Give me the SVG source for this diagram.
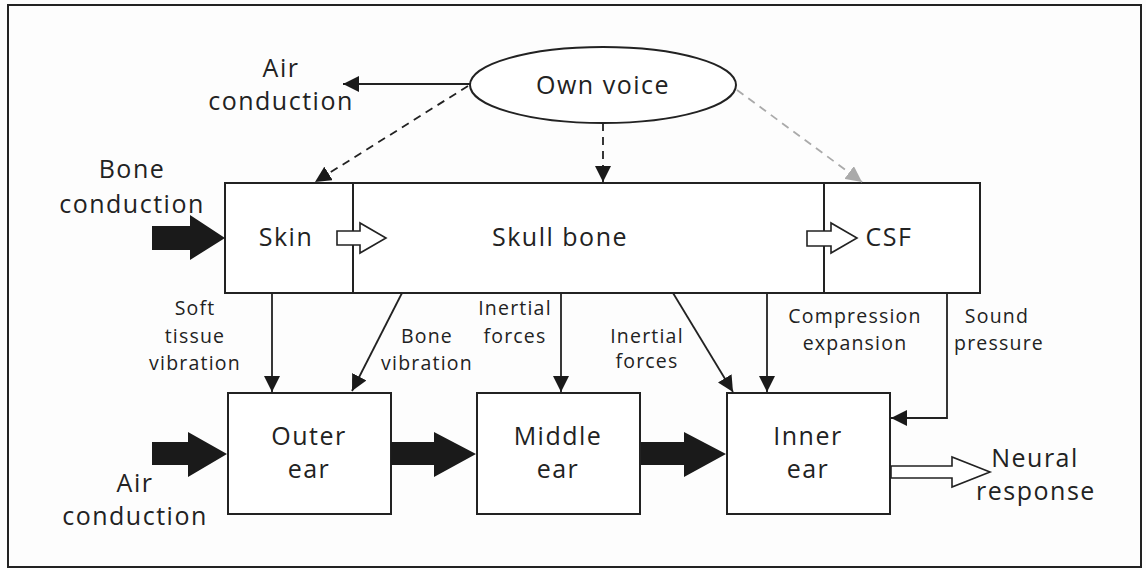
<svg xmlns="http://www.w3.org/2000/svg" width="1146" height="570" viewBox="0 0 1146 570">
<style>
.box{fill:#fff;stroke:#222;stroke-width:2}
.lg{font-family:"Open Sans","Noto Sans",sans-serif;font-size:25px;letter-spacing:1.5px;fill:#222;text-anchor:middle}
.sm{font-family:"Open Sans","Noto Sans",sans-serif;font-size:19.5px;letter-spacing:1.2px;fill:#222;text-anchor:middle}
.ln{fill:none;stroke:#222;stroke-width:1.8}
.dash{fill:none;stroke:#222;stroke-width:1.8;stroke-dasharray:8 6}
.gdash{fill:none;stroke:#aaa;stroke-width:1.8;stroke-dasharray:8 6}
.big{fill:#1a1a1a;stroke:none}
.hol{fill:#fff;stroke:#222;stroke-width:1.6}
</style>
<defs>
<marker id="ah" viewBox="0 0 16 16" refX="16" refY="8" markerWidth="16" markerHeight="16" orient="auto" markerUnits="userSpaceOnUse"><path d="M0,0 L16,8 L0,16 z" fill="#1a1a1a"/></marker>
<marker id="ahg" viewBox="0 0 16 16" refX="16" refY="8" markerWidth="16" markerHeight="16" orient="auto" markerUnits="userSpaceOnUse"><path d="M0,0 L16,8 L0,16 z" fill="#aaa"/></marker>
</defs>
<rect x="0" y="0" width="1146" height="570" fill="#fdfdfd"/>
<rect x="8" y="5" width="1133" height="562" fill="none" stroke="#222" stroke-width="2"/>

<g id="own-voice">
<ellipse cx="603" cy="85" rx="133" ry="38" class="box"/>
<text x="603" y="94" class="lg">Own voice</text>
</g>

<g id="skull">
<rect x="225" y="183" width="755" height="110" class="box"/>
<line x1="353" y1="183" x2="353" y2="293" stroke="#222" stroke-width="2"/>
<line x1="824" y1="183" x2="824" y2="293" stroke="#222" stroke-width="2"/>
</g>
<g id="skin"><text x="286" y="246" class="lg">Skin</text></g>
<g id="skull-bone"><text x="560" y="246" class="lg">Skull bone</text></g>
<g id="csf"><text x="889" y="246" class="lg">CSF</text></g>

<g id="outer-ear">
<rect x="228" y="393" width="163" height="121" class="box"/>
<text x="309" y="445" class="lg">Outer</text>
<text x="309" y="478" class="lg">ear</text>
</g>
<g id="middle-ear">
<rect x="477" y="393" width="163" height="121" class="box"/>
<text x="558" y="445" class="lg">Middle</text>
<text x="558" y="478" class="lg">ear</text>
</g>
<g id="inner-ear">
<rect x="727" y="393" width="163" height="121" class="box"/>
<text x="808" y="445" class="lg">Inner</text>
<text x="808" y="478" class="lg">ear</text>
</g>

<g id="labels">
<text x="281" y="77" class="lg">Air</text>
<text x="281" y="110" class="lg">conduction</text>
<text x="132" y="178" class="lg">Bone</text>
<text x="132" y="213" class="lg">conduction</text>
<text x="135" y="492" class="lg">Air</text>
<text x="135" y="525" class="lg">conduction</text>
<text x="1035" y="467" class="lg">Neural</text>
<text x="1036" y="500" class="lg">response</text>
<text x="195" y="315" class="sm">Soft</text>
<text x="195" y="343" class="sm">tissue</text>
<text x="195" y="370" class="sm">vibration</text>
<text x="427" y="343" class="sm">Bone</text>
<text x="427" y="370" class="sm">vibration</text>
<text x="515" y="315" class="sm">Inertial</text>
<text x="515" y="343" class="sm">forces</text>
<text x="647" y="343" class="sm">Inertial</text>
<text x="647" y="368" class="sm">forces</text>
<text x="855" y="323" class="sm">Compression</text>
<text x="855" y="350" class="sm">expansion</text>
<text x="997" y="323" class="sm">Sound</text>
<text x="999" y="350" class="sm">pressure</text>
</g>

<g id="connectors">
<line x1="470" y1="84" x2="343" y2="84" class="ln" marker-end="url(#ah)"/>
<line x1="468" y1="86" x2="315" y2="182" class="dash" marker-end="url(#ah)"/>
<line x1="603" y1="123" x2="603" y2="182" class="dash" marker-end="url(#ah)"/>
<line x1="737" y1="90" x2="862" y2="182" class="gdash" marker-end="url(#ahg)"/>
<line x1="272" y1="293" x2="272" y2="392" class="ln" marker-end="url(#ah)"/>
<line x1="402" y1="293" x2="352" y2="391" class="ln" marker-end="url(#ah)"/>
<line x1="561" y1="293" x2="561" y2="392" class="ln" marker-end="url(#ah)"/>
<line x1="673" y1="293" x2="733" y2="392" class="ln" marker-end="url(#ah)"/>
<line x1="767" y1="293" x2="767" y2="392" class="ln" marker-end="url(#ah)"/>
<polyline points="947,293 947,418 891,418" class="ln" marker-end="url(#ah)"/>
<polygon points="152,226 190,226 190,215 225,238 190,260 190,250 152,250" class="big"/>
<polygon points="152,442 188,442 188,432 227,454 188,477 188,465 152,465" class="big"/>
<polygon points="391,442 434,442 434,432 476,454 434,477 434,465 391,465" class="big"/>
<polygon points="641,442 684,442 684,432 726,454 684,477 684,465 641,465" class="big"/>
<polygon points="337,231 360,231 360,223 386,238 360,253 360,245 337,245" class="hol"/>
<polygon points="807,231 831,231 831,223 857,238 831,253 831,246 807,246" class="hol"/>
<polygon points="891,466 952,466 952,457 990,472 952,487 952,478 891,478" class="hol"/>
</g>
</svg>
